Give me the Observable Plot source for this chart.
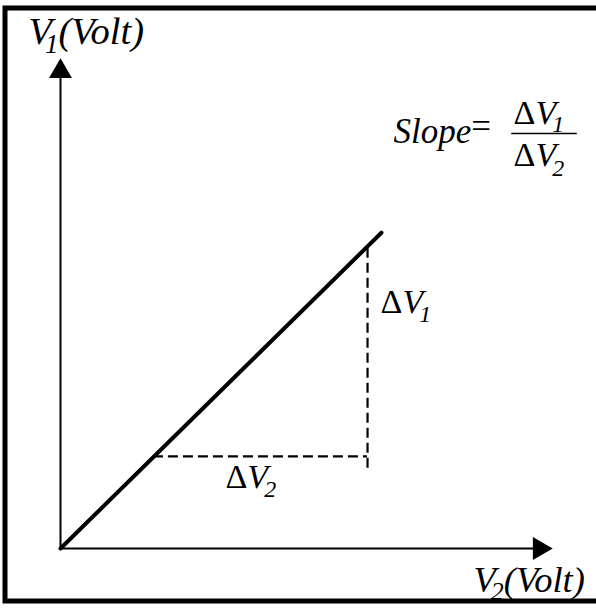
<!DOCTYPE html>
<html>
<head>
<meta charset="utf-8">
<script src="https://cdn.jsdelivr.net/npm/d3@7"></script>
<script src="https://cdn.jsdelivr.net/npm/@observablehq/plot@0.6"></script>
<style>
  html, body { margin: 0; padding: 0; background: #fff; }
  svg { display: block; }
  svg text, svg tspan { font-family: "Liberation Serif", "Times New Roman", Times, serif !important; }
</style>
</head>
<body>
<div id="chart"></div>
<script>
// ---- data (axis units) ----
const lineV2 = [0, 6.70];          // V2 values of the straight line
const lineV1 = [0, 6.62];          // V1 values of the straight line
const deltaV2 = [1.94, 6.41];      // horizontal dashed run (V2 start/end)
const deltaV2Level = 1.93;         // V1 level of the horizontal dashed run
const deltaV1 = [1.68, 6.35];      // vertical dashed rise (V1 start/end)
const axisMax = 10;                // end of both axes (arrow heads)
const fracBar = [9.42, 10.79];     // fraction bar extent (V2 units)
const fracBarLevel = 8.70;         // fraction bar level (V1 units)

// ---- texts (segments: t = text, it = italic, sub = subscript) ----
const yLabelSegs = [{t: "V", it: 1}, {t: "1", it: 1, sub: 1}, {t: "(Volt)", it: 1}];
const xLabelSegs = [{t: "V", it: 1}, {t: "2", it: 1, sub: 1}, {t: "(Volt)", it: 1}];
const dV1Segs = [{t: "\u0394"}, {t: "V", it: 1}, {t: "1", it: 1, sub: 1}];
const dV2Segs = [{t: "\u0394"}, {t: "V", it: 1}, {t: "2", it: 1, sub: 1}];
const slopeSegs = [{t: "Slope", it: 1}, {t: "=", eq: 1}];

const serif = "'Liberation Serif', 'Times New Roman', serif";
const lineData = lineV2.map((x, i) => ({x, y: lineV1[i]}));

const yTip = {x: 0, y: axisMax};
const xTip = {x: axisMax, y: 0};
const vMid = {x: deltaV2[1], y: (deltaV1[0] + deltaV1[1]) / 2};
const hMid = {x: (deltaV2[0] + deltaV2[1]) / 2, y: deltaV2Level};
const corner = {x: axisMax, y: axisMax};

// label specs: anchor point, pixel offset, sizes
const labels = [
  {key: "yl", anchor: yTip, dx: -32, dy: -28, size: 38.5, subSize: 27, subShift: 9, subGap: -7, segs: yLabelSegs},
  {key: "xl", anchor: xTip, dx: -66, dy: 43, size: 36.5, subSize: 26, subShift: 8, subGap: -5, segs: xLabelSegs},
  {key: "d1", anchor: vMid, dx: 13, dy: -44, size: 34, subSize: 24, subShift: 9, subGap: -4, segs: dV1Segs},
  {key: "d2", anchor: hMid, dx: -35, dy: 32, size: 34, subSize: 24, subShift: 9, subGap: -4, segs: dV2Segs},
  {key: "sl", anchor: corner, dx: -146, dy: 71, size: 35, subSize: 24, subShift: 0, subGap: 0, segs: slopeSegs},
  {key: "fn", anchor: corner, dx: -26, dy: 52, size: 34, subSize: 24, subShift: 8, subGap: -4, segs: dV1Segs},
  {key: "fd", anchor: corner, dx: -26, dy: 94, size: 34, subSize: 24, subShift: 10, subGap: -4, segs: dV2Segs}
];

const textMarks = labels.map(L => Plot.text([L.anchor], {
  x: "x", y: "y", text: () => L.segs.map(s => s.t).join(""),
  dx: L.dx, dy: L.dy, fontSize: L.size, fontFamily: serif,
  textAnchor: "start", lineAnchor: "bottom", fill: "black",
  className: "lbl-" + L.key
}));

const border = () => d3.create("svg:rect")
  .attr("x", 5).attr("y", 8).attr("width", 600).attr("height", 593)
  .attr("fill", "none").attr("stroke", "black").attr("stroke-width", 5).node();

const chart = Plot.plot({
  width: 596,
  height: 609,
  marginLeft: 60,
  marginRight: 57,
  marginTop: 71,
  marginBottom: 61,
  x: {domain: [0, axisMax], axis: null},
  y: {domain: [0, axisMax], axis: null},
  style: {background: "white"},
  marks: [
    border,
    Plot.ruleX([0], {y1: 0, y2: axisMax, stroke: "black", strokeWidth: 2}),
    Plot.ruleY([0], {x1: 0, x2: axisMax, stroke: "black", strokeWidth: 2}),
    Plot.dot([yTip], {x: "x", y: "y", symbol: "triangle", r: 8.5, fill: "black", stroke: null}),
    Plot.dot([xTip], {x: "x", y: "y", symbol: "triangle", r: 8.5, fill: "black", stroke: null, rotate: 90}),
    Plot.ruleY([deltaV2Level], {x1: deltaV2[0], x2: deltaV2[1], stroke: "black", strokeWidth: 2.2, strokeDasharray: "10,5"}),
    Plot.ruleX([deltaV2[1]], {y1: deltaV1[0], y2: deltaV1[1], stroke: "black", strokeWidth: 2.2, strokeDasharray: "10,5"}),
    Plot.line(lineData, {x: "x", y: "y", stroke: "black", strokeWidth: 4}),
    Plot.ruleY([fracBarLevel], {x1: fracBar[0], x2: fracBar[1], stroke: "black", strokeWidth: 1.5}),
    ...textMarks
  ]
});

// rebuild each label as styled tspans (italics, subscripts)
labels.forEach(L => {
  d3.select(chart).selectAll(".lbl-" + L.key + " text").each(function () {
    const t = d3.select(this);
    t.text(null);
    let shift = 0;
    L.segs.forEach(s => {
      const ts = t.append("tspan").text(s.t)
        .attr("font-style", s.it ? "italic" : "normal")
        .attr("font-size", s.sub ? L.subSize : L.size);
      const target = s.sub ? L.subShift : (s.eq ? -5 : 0);
      if (target !== shift) { ts.attr("dy", target - shift); shift = target; }
      if (s.sub) ts.attr("dx", L.subGap);
    });
  });
});

document.getElementById("chart").appendChild(chart);
</script>
</body>
</html>
